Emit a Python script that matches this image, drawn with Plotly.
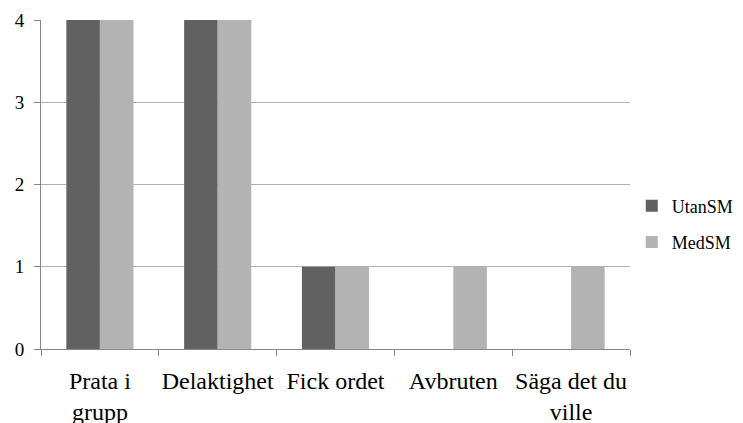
import plotly.graph_objects as go

categories = ["Prata i<br>grupp", "Delaktighet", "Fick ordet", "Avbruten", "Säga det du<br>ville"]
utan_sm = [4, 4, 1, 0, 0]
med_sm = [4, 4, 1, 1, 1]
y_ticks = [0, 1, 2, 3, 4]

SERIF = "Times"

fig = go.Figure()
fig.add_trace(go.Bar(name="UtanSM", x=categories, y=utan_sm, legendgroup="a",
                     marker=dict(color="#616161", line=dict(width=0))))
fig.add_trace(go.Bar(name="MedSM", x=categories, y=med_sm, legendgroup="b",
                     marker=dict(color="#b3b3b3", line=dict(width=0))))

fig.update_layout(
    width=735, height=415,
    margin=dict(l=33, r=113, t=12, b=74, autoexpand=False),
    paper_bgcolor="white", plot_bgcolor="white",
    barmode="group", bargap=0.43, bargroupgap=0,
    legend=dict(x=1.003, xanchor="left", y=0.38, yanchor="middle",
                font=dict(family=SERIF, size=18, color="black"), itemwidth=30,
                tracegroupgap=10, traceorder="grouped",
                bgcolor="rgba(0,0,0,0)"),
    showlegend=True,
)
fig.update_xaxes(
    showline=True, linecolor="#888888", linewidth=1,
    ticks="outside", ticklen=6, tickcolor="#888888", tickson="boundaries",
    tickfont=dict(family=SERIF, size=24, color="black"), showgrid=False,
    tickangle=0, automargin=False, ticklabelstandoff=10,
)
fig.update_yaxes(
    range=[0, 4], tickvals=y_ticks, showline=True, linecolor="#888888", linewidth=1,
    ticks="outside", ticklen=6, tickcolor="#888888",
    showgrid=True, gridcolor="#b0b0b0", gridwidth=1,
    tickfont=dict(family=SERIF, size=19, color="black"), zeroline=False,
    automargin=False, ticklabelstandoff=6,
)
fig.write_html("out.html")
